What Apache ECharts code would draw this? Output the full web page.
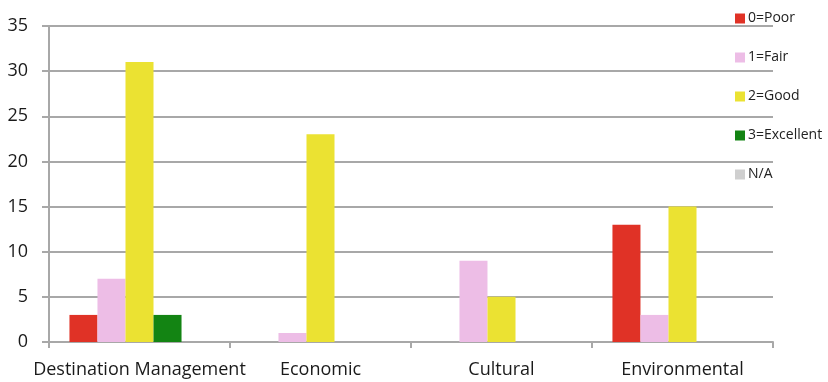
<!DOCTYPE html>
<html><head><meta charset="utf-8">
<script src="https://cdn.jsdelivr.net/npm/echarts@6/dist/echarts.min.js"></script>
<style>html,body{margin:0;padding:0;background:#fff}#c{width:828px;height:382px}</style>
</head><body><div id="c"></div>
<script>
const categories = ['Destination Management', 'Economic', 'Cultural', 'Environmental'];
const seriesNames = ['0=Poor', '1=Fair', '2=Good', '3=Excellent', 'N/A'];
const poor = [3, 0, 0, 13];
const fair = [7, 1, 9, 3];
const good = [31, 23, 5, 15];
const excellent = [3, 0, 0, 0];
const na = [0, 0, 0, 0];
const colors = ['#E03226', '#EDBDE6', '#EBE232', '#138413', '#CFCFCF'];
const values = [poor, fair, good, excellent, na];

const chart = echarts.init(document.getElementById('c'));
const font = 'Open Sans';
chart.setOption({
  animation: false,
  grid: { left: 49, right: 55, top: 26, bottom: 40, containLabel: false },
  legend: {
    orient: 'vertical', left: 730, top: 4,
    itemWidth: 10, itemHeight: 10, itemGap: 20,
    icon: 'rect',
    textStyle: { fontFamily: font, fontSize: 14, color: '#222', lineHeight: 19, padding: [0, 0, 0, -2] },
    data: seriesNames
  },
  xAxis: {
    type: 'category', data: categories,
    axisLine: { lineStyle: { color: '#A8A8A8', width: 2 } },
    axisTick: { show: true, length: 6, lineStyle: { color: '#A8A8A8', width: 2 } },
    axisLabel: { interval: 0, fontFamily: font, fontSize: 18, color: '#1a1a1a', margin: 19 }
  },
  yAxis: {
    type: 'value', min: 0, max: 35, interval: 5,
    axisLine: { show: true, lineStyle: { color: '#A8A8A8', width: 2 } },
    axisTick: { show: true, length: 7, lineStyle: { color: '#A8A8A8', width: 2 } },
    splitLine: { lineStyle: { color: '#A8A8A8', width: 2 } },
    axisLabel: { fontFamily: font, fontSize: 18, color: '#1a1a1a', margin: 21 }
  },
  series: values.map((v, i) => ({
    name: seriesNames[i], type: 'bar', data: v,
    itemStyle: { color: colors[i] },
    barGap: '0%', barCategoryGap: '22.6%'
  }))
});
</script></body></html>
